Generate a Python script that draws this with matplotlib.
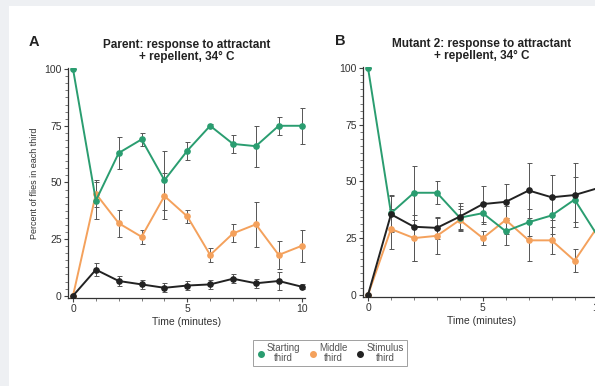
import numpy as np
import matplotlib
matplotlib.use("Agg")
import matplotlib.pyplot as plt
from matplotlib.ticker import MultipleLocator
from matplotlib.lines import Line2D
from matplotlib.patches import Rectangle

plt.rcParams['font.family'] = ['Liberation Sans Narrow', 'Liberation Sans', 'DejaVu Sans']

# time points (minutes)
time = np.arange(0, 11)

# Panel A: parent
a_start = [100, 42, 63, 69, 51, 64, 75, 67, 66, 75, 75]
a_start_err = [0, 8, 7, 3, 13, 4, 1, 4, 9, 4, 8]
a_mid = [0, 45, 32, 26, 44, 35, 18, 27.5, 31.5, 18, 22]
a_mid_err = [0, 6, 6, 3, 10, 3, 3, 4, 10, 6, 7]
a_stim = [0, 11.5, 6.5, 5, 3.5, 4.5, 5, 7.5, 5.5, 6.5, 4]
a_stim_err = [0, 3, 2, 2, 2, 2, 2, 2, 2, 4, 1]

# Panel B: mutant 2
b_start = [100, 36, 45, 45, 34, 36, 28, 32, 35, 42, 26]
b_start_err = [0, 8, 12, 5, 5, 5, 6, 6, 8, 10, 8]
b_mid = [0, 29, 25, 26, 33, 25, 33, 24, 24, 15, 30]
b_mid_err = [0, 9, 10, 8, 5, 3, 6, 9, 6, 5, 6]
b_stim = [0, 35.5, 30, 29.5, 34.5, 40, 41, 46, 43, 44, 47]
b_stim_err = [0, 8, 15, 5, 6, 8, 8, 12, 10, 14, 8]

titles = ["Parent: response to attractant\n+ repellent, 34\u00b0 C",
          "Mutant 2: response to attractant\n+ repellent, 34\u00b0 C"]
letters = ["A", "B"]
legend_labels = ["Starting\nthird", "Middle\nthird", "Stimulus\nthird"]

green = "#2a9d70"
orange = "#f4a15c"
black = "#222222"
errc = "#555555"

fig = plt.figure(figsize=(5.95, 3.86), dpi=100)
fig.patch.set_facecolor("#eef0f3")
# white paper area
fig.patches.append(Rectangle((9 / 595, 0), 1, 1 - 6 / 386, transform=fig.transFigure,
                             facecolor="white", edgecolor="none", zorder=-10))

W, H = 595.0, 386.0
axA = fig.add_axes([68 / W, 1 - 298 / H, 237 / W, 230 / H])
axB = fig.add_axes([363 / W, 1 - 297 / H, 238 / W, 230 / H])

panels = [
    (axA, a_start, a_start_err, a_mid, a_mid_err, a_stim, a_stim_err),
    (axB, b_start, b_start_err, b_mid, b_mid_err, b_stim, b_stim_err),
]
letter_x = [-0.145, -0.097]

for i, (ax, s, se, m, me, k, ke) in enumerate(panels):
    ax.set_facecolor("none")
    for y, e, c in [(m, me, orange), (s, se, green), (k, ke, black)]:
        ax.errorbar(time, y, yerr=e, fmt="none", ecolor=errc, elinewidth=0.7,
                    capsize=1.8, capthick=0.7, zorder=2)
        ax.plot(time, y, color=c, lw=1.4, marker="o", ms=3.8, zorder=3)
    ax.set_xlim(-0.22, 10.15)
    ax.set_ylim(-1, 100.5)
    ax.set_yticks([0, 25, 50, 75, 100])
    ax.yaxis.set_minor_locator(MultipleLocator(3.125))
    ax.set_xticks([0, 5, 10])
    ax.xaxis.set_minor_locator(MultipleLocator(1))
    ax.spines["top"].set_visible(False)
    ax.spines["right"].set_visible(False)
    for sp in ["left", "bottom"]:
        ax.spines[sp].set_color("#333333")
        ax.spines[sp].set_linewidth(0.9)
    ax.tick_params(which="major", length=3, width=0.8, color="#444444",
                   labelsize=7.5, labelcolor="#333333", pad=1.5)
    ax.tick_params(which="minor", length=2, width=0.6, color="#666666")
    ax.set_xlabel("Time (minutes)", fontsize=7.5, color="#333333", labelpad=2)
    ax.set_title(titles[i], fontsize=8.5, fontweight="bold", color="#222222",
                 pad=6, linespacing=1.0)
    ax.text(letter_x[i], 1.113, letters[i], transform=ax.transAxes, fontsize=10.5,
            fontweight="bold", color="#222222", ha="center", va="center")

axA.set_ylabel("Percent of flies in each third", fontsize=6.5, color="#333333", labelpad=4)

handles = [Line2D([], [], ls="none", marker="o", ms=4, color=c) for c in (green, orange, black)]
leg = fig.legend(handles, legend_labels, loc="center", bbox_to_anchor=(330 / W, 1 - 353 / H),
                 ncol=3, fontsize=7, frameon=True, handletextpad=0.15, columnspacing=0.9,
                 borderpad=0.35, handlelength=0.9, fancybox=False)
leg.get_frame().set_edgecolor("#888888")
leg.get_frame().set_linewidth(0.7)
for t in leg.get_texts():
    t.set_color("#555555")
    t.set_ha("center")
    t.set_linespacing(1.0)

fig.savefig("out.png", dpi=100, facecolor=fig.get_facecolor())
